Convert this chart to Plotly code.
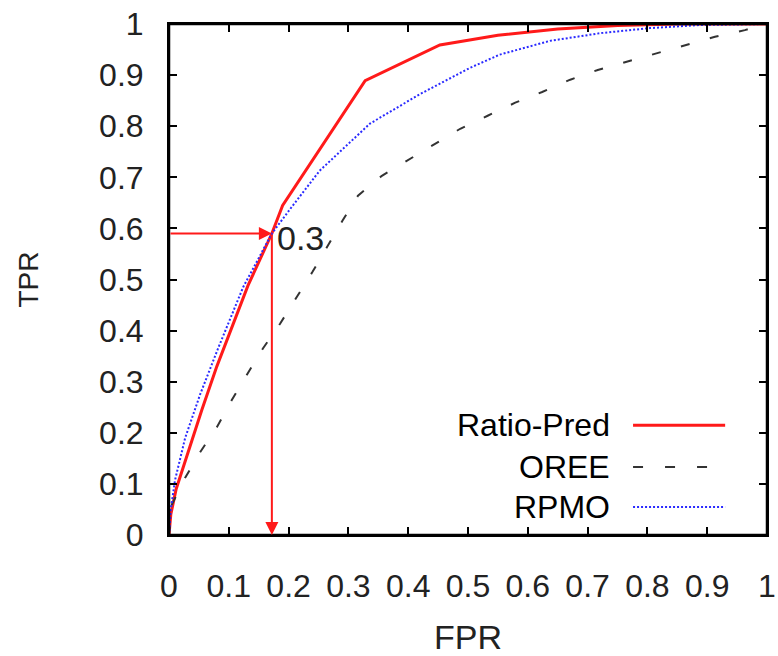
import plotly.graph_objects as go

# ---- data ----
ratio_pred_fpr = [0, 0.003, 0.012, 0.03, 0.055, 0.08, 0.105, 0.132, 0.172, 0.19, 0.328, 0.453, 0.55, 0.65, 0.75, 0.85, 1.0]
ratio_pred_tpr = [0, 0.04, 0.09, 0.155, 0.245, 0.33, 0.405, 0.488, 0.59, 0.645, 0.889, 0.959, 0.978, 0.99, 0.997, 1.0, 1.0]

oree_fpr = [0, 0.005, 0.027, 0.052, 0.08, 0.105, 0.13, 0.157, 0.186, 0.24, 0.29, 0.316, 0.356, 0.398, 0.441,
            0.487, 0.532, 0.579, 0.624, 0.671, 0.717, 0.766, 0.813, 0.866, 0.913, 0.963, 1.0]
oree_tpr = [0, 0.06, 0.112, 0.162, 0.211, 0.264, 0.313, 0.365, 0.414, 0.515, 0.615, 0.664, 0.703, 0.732, 0.762,
            0.795, 0.82, 0.846, 0.867, 0.891, 0.91, 0.926, 0.941, 0.959, 0.975, 0.988, 1.0]

rpmo_fpr = [0, 0.003, 0.01, 0.027, 0.052, 0.082, 0.124, 0.172, 0.202, 0.252, 0.336, 0.42, 0.503, 0.553,
            0.637, 0.721, 0.804, 0.888, 1.0]
rpmo_tpr = [0, 0.05, 0.107, 0.19, 0.275, 0.365, 0.485, 0.59, 0.637, 0.713, 0.805, 0.863, 0.914, 0.94,
            0.967, 0.982, 0.992, 0.998, 1.0]

op_fpr, op_tpr, op_label = 0.172, 0.59, "0.3"

tick_vals = [0, 0.1, 0.2, 0.3, 0.4, 0.5, 0.6, 0.7, 0.8, 0.9, 1]
tick_text = ["0", "0.1", "0.2", "0.3", "0.4", "0.5", "0.6", "0.7", "0.8", "0.9", "1"]

series_names = ["Ratio-Pred", "OREE", "RPMO"]
series_colors = ["#ff1a1a", "#333333", "#2a2aff"]
series_widths = [3, 2, 2]
series_dash = ["solid", "9px,21px", "2px,2px"]

FONT = "Liberation Sans, Arial, sans-serif"

fig = go.Figure()
for name, xs, ys, c, w, d in zip(series_names,
                                 [ratio_pred_fpr, oree_fpr, rpmo_fpr],
                                 [ratio_pred_tpr, oree_tpr, rpmo_tpr],
                                 series_colors, series_widths, series_dash):
    fig.add_trace(go.Scatter(x=xs, y=ys, mode="lines", name=name,
                             line=dict(color=c, width=w, dash=d), showlegend=False))

# plot frame (paper coordinates, not clipped)
fig.add_shape(type="rect", xref="paper", yref="paper", x0=0, x1=1, y0=0, y1=1,
              line=dict(color="black", width=2.5), layer="above")

# manual legend (text left, key right)
leg_y = [0.215, 0.133, 0.055]
legend_dash = ["solid", "10px,22px", "2px,2px"]
for name, c, w, d, ly in zip(series_names, series_colors, series_widths, legend_dash, leg_y):
    fig.add_annotation(x=0.741, y=ly, xref="x domain", yref="y domain", text=name, showarrow=False,
                       xanchor="right", yanchor="middle", font=dict(family=FONT, size=32, color="black"))
    fig.add_shape(type="line", xref="x domain", yref="y domain", x0=0.776, x1=0.930, y0=ly, y1=ly,
                  line=dict(color=c, width=w, dash=d))

# arrows to operating point
fig.add_annotation(x=op_fpr, y=op_tpr, ax=0, ay=op_tpr, xref="x", yref="y", axref="x", ayref="y",
                   text="", showarrow=True, arrowhead=2, arrowsize=1.3, arrowwidth=2, arrowcolor="#ff1a1a",
                   standoff=0)
fig.add_annotation(x=op_fpr, y=0, ax=op_fpr, ay=op_tpr, xref="x", yref="y", axref="x", ayref="y",
                   text="", showarrow=True, arrowhead=2, arrowsize=1.3, arrowwidth=2, arrowcolor="#ff1a1a",
                   standoff=0)
fig.add_annotation(x=op_fpr + 0.006, y=op_tpr - 0.008, xref="x", yref="y", text=op_label, showarrow=False,
                   xanchor="left", yanchor="middle", font=dict(family=FONT, size=34, color="#222"))

axis_common = dict(range=[0, 1], tickvals=tick_vals, ticktext=tick_text, ticks="inside", ticklen=8,
                   tickwidth=1.5, tickcolor="black", showline=True, linecolor="black", linewidth=2,
                   mirror="ticks", showgrid=False, zeroline=False, automargin=False,
                   ticklabeloverflow="allow",
                   tickfont=dict(family=FONT, size=32, color="#222"))

fig.update_layout(
    width=778, height=656,
    margin=dict(l=169, r=11, t=24, b=121),
    plot_bgcolor="white", paper_bgcolor="white",
    xaxis=dict(**axis_common, ticklabelstandoff=22,
               title=dict(text="FPR", font=dict(family=FONT, size=34, color="#222"), standoff=22)),
    yaxis=dict(**axis_common, ticklabelstandoff=17,
               title=dict(text="TPR", font=dict(family=FONT, size=28, color="#222"), standoff=52)),
)

fig.write_html("out.html", config={"displayModeBar": False},
               post_script="document.body.style.margin='0';")
